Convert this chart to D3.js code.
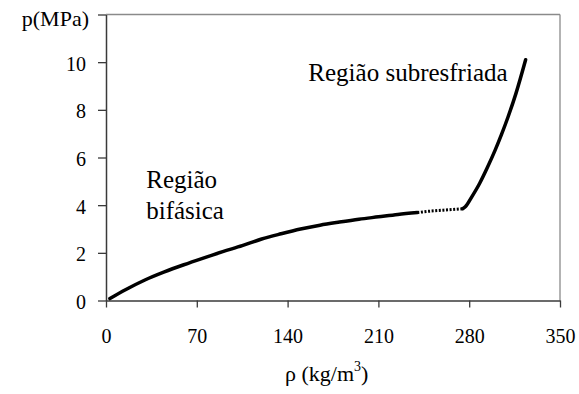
<!DOCTYPE html>
<html><head><meta charset="utf-8">
<script src="https://cdn.jsdelivr.net/npm/d3@7"></script>
<style>body{margin:0;background:#fff}svg{display:block}svg text{font-family:'Liberation Serif','Times New Roman',Times,'DejaVu Serif','Noto Serif',serif !important;fill:#000}</style>
</head><body><svg id="c" width="579" height="394"></svg>
<script>
// Data
const rhoTwoPhase = [3, 15, 30, 45, 60, 75, 90, 105, 120, 135, 150, 165, 180, 195, 210, 225, 240];
const pTwoPhase   = [0.08, 0.45, 0.86, 1.20, 1.50, 1.78, 2.05, 2.30, 2.58, 2.80, 3.00, 3.16, 3.29, 3.41, 3.51, 3.61, 3.69];
const rhoSparse = [240, 250, 260, 270, 275];
const pSparse   = [3.69, 3.75, 3.79, 3.83, 3.85];
const rhoLiquid = [275, 277, 282, 288, 294, 300, 305, 310, 316, 323.5];
const pLiquid   = [3.85, 3.93, 4.35, 4.91, 5.58, 6.31, 6.98, 7.71, 8.68, 10.1];
const xTicks = [0, 70, 140, 210, 280, 350];
const yTicks = [0, 2, 4, 6, 8, 10, 12];
const yTopLabel = "p(MPa)";
const xLabel = "ρ (kg/m";
const annotations = [
  {lines: ["Região", "bifásica"], rho: 31, p: 4.7},
  {lines: ["Região subresfriada"], rho: 156, p: 9.2}
];

const svg = d3.select("#c");
const x = d3.scaleLinear().domain([0, 350]).range([106, 560]);
const y = d3.scaleLinear().domain([0, 12]).range([300.5, 14.5]);

// frame (top/right)
svg.append("line").attr("x1", x(0)).attr("x2", x(350)).attr("y1", y(12)).attr("y2", y(12)).attr("stroke", "#8a8a8a").attr("stroke-width", 1.3);
svg.append("line").attr("x1", x(350)).attr("x2", x(350)).attr("y1", y(12)).attr("y2", y(0)).attr("stroke", "#8a8a8a").attr("stroke-width", 1.3);

// axes
const ax = svg.append("g").attr("transform", `translate(0,${y(0)})`)
  .call(d3.axisBottom(x).tickValues(xTicks).tickSize(7).tickSizeOuter(0).tickPadding(21));
const ay = svg.append("g").attr("transform", `translate(${x(0)},0)`)
  .call(d3.axisLeft(y).tickValues(yTicks).tickSize(8).tickSizeOuter(0).tickPadding(12)
    .tickFormat(d => d === 12 ? yTopLabel : d));
[ax, ay].forEach(g => {
  g.attr("font-family", null);
  g.select(".domain").attr("stroke", "#3a3a3a").attr("stroke-width", 1.5);
  g.selectAll(".tick line").attr("stroke", "#3a3a3a").attr("stroke-width", 1.3);
  g.selectAll("text").attr("font-size", 20).attr("fill", "#000");
});
ay.selectAll(".tick text").attr("dy", d => d === 12 ? "0.5em" : "0.4em")
  .attr("font-size", d => d === 12 ? 22 : 20)
  .attr("x", d => d === 12 ? -17 : -20);

// curve
const line = d3.line().x(d => x(d[0])).y(d => y(d[1])).curve(d3.curveMonotoneX);
svg.append("path").datum(d3.zip(rhoTwoPhase, pTwoPhase)).attr("d", line)
  .attr("fill", "none").attr("stroke", "#000").attr("stroke-width", 3.5).attr("stroke-linecap", "round");
svg.append("path").datum(d3.zip(rhoSparse, pSparse)).attr("d", line)
  .attr("fill", "none").attr("stroke", "#000").attr("stroke-width", 3).attr("stroke-dasharray", "2,1.6");
svg.append("path").datum(d3.zip(rhoLiquid, pLiquid)).attr("d", line)
  .attr("fill", "none").attr("stroke", "#000").attr("stroke-width", 3.5).attr("stroke-linecap", "round");

// x label
const xl = svg.append("text").attr("x", 285).attr("y", 381).attr("font-size", 22);
xl.append("tspan").text(xLabel);
xl.append("tspan").attr("font-size", 14).attr("dy", -10).text("3");
xl.append("tspan").attr("dy", 10).text(")");

// annotations
annotations.forEach(a => {
  const t = svg.append("text").attr("x", x(a.rho)).attr("y", y(a.p)).attr("font-size", 25);
  a.lines.forEach((s, i) => t.append("tspan").attr("x", x(a.rho)).attr("dy", i ? 31 : 0).text(s));
});
</script></body></html>
